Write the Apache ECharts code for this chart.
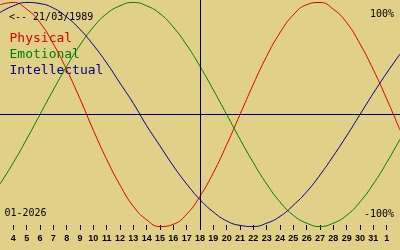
<!DOCTYPE html>
<html>
<head>
<meta charset="utf-8">
<script src="https://cdn.jsdelivr.net/npm/echarts@6/dist/echarts.min.js"></script>
<style>
html,body{margin:0;padding:0;background:#e0d088;}
#c{width:400px;height:250px;}
</style>
</head>
<body>
<div id="c"></div>
<script>
// Days of January 2026 shown (32 = 1 Feb, 33 = 2 Feb)
const days = [3,4,5,6,7,8,9,10,11,12,13,14,15,16,17,18,19,20,21,22,23,24,25,26,27,28,29,30,31,32,33];
// Biorhythm values in percent, read per day
const physical = [98,100,94,82,63,40,14,-14,-40,-63,-82,-94,-100,-98,-89,-73,-52,-27,0,27,52,73,89,98,100,94,82,63,40,14,-14];
const emotional = [-62,-43,-22,0,22,43,62,78,90,97,100,97,90,78,62,43,22,0,-22,-43,-62,-78,-90,-97,-100,-97,-90,-78,-62,-43,-22];
const intellectual = [91,97,100,99,95,87,76,62,46,28,10,-10,-28,-46,-62,-76,-87,-95,-99,-100,-97,-91,-81,-69,-54,-37,-19,0,19,37,54];
const tickDays = [4,5,6,7,8,9,10,11,12,13,14,15,16,17,18,19,20,21,22,23,24,25,26,27,28,29,30,31,32];
const tickLabels = ['4','5','6','7','8','9','10','11','12','13','14','15','16','17','18','19','20','21','22','23','24','25','26','27','28','29','30','31','1'];
const today = 18;
const birthText = '<-- 21/03/1989';
const monthText = '01-2026';
const seriesNames = ['Physical','Emotional','Intellectual'];
const seriesColors = ['#dd0000','#008000','#000090'];

const pair = arr => days.map((d,i)=>[d,arr[i]]);
const mono = '"DejaVu Sans Mono", "Liberation Mono", monospace';

const chart = echarts.init(document.getElementById('c'), null, {renderer:'canvas'});
chart.setOption({
  backgroundColor:'#e0d088',
  animation:false,
  grid:{left:0,right:0,top:0,bottom:20,containLabel:false},
  xAxis:{
    type:'value',min:3,max:33,position:'bottom',
    axisLine:{show:false,onZero:false},
    splitLine:{show:false},
    axisTick:{show:true,inside:true,length:5,customValues:tickDays,lineStyle:{color:'#000',width:1}},
    axisLabel:{show:true,customValues:tickDays,margin:4,fontSize:9,fontWeight:'bold',
      fontFamily:'"Liberation Sans", Arial, sans-serif',color:'#000',
      formatter:v=>{const k=tickDays.indexOf(v);return k>=0?tickLabels[k]:'';}}
  },
  yAxis:{type:'value',min:-103.1,max:102.2,show:false,splitLine:{show:false}},
  series:[
    {name:seriesNames[0],type:'line',data:pair(physical),smooth:true,symbol:'none',
      lineStyle:{color:seriesColors[0],width:1},z:3,
      markLine:{silent:true,symbol:'none',animation:false,label:{show:false},
        lineStyle:{color:'#000',width:1,type:'solid'},
        data:[{xAxis:today},{yAxis:0}]}},
    {name:seriesNames[1],type:'line',data:pair(emotional),smooth:true,symbol:'none',
      lineStyle:{color:seriesColors[1],width:1},z:3},
    {name:seriesNames[2],type:'line',data:pair(intellectual),smooth:true,symbol:'none',
      lineStyle:{color:seriesColors[2],width:1},z:3}
  ],
  graphic:[
    {type:'text',x:9,y:12.5,style:{text:birthText,font:'10px '+mono,fill:'#000',verticalAlign:'top'}},
    {type:'text',x:9.5,y:32,style:{text:seriesNames[0],font:'13px '+mono,fill:seriesColors[0],verticalAlign:'top'}},
    {type:'text',x:9.5,y:48,style:{text:seriesNames[1],font:'13px '+mono,fill:seriesColors[1],verticalAlign:'top'}},
    {type:'text',x:9.5,y:64,style:{text:seriesNames[2],font:'13px '+mono,fill:seriesColors[2],verticalAlign:'top'}},
    {type:'text',x:394,y:9,style:{text:'100%',font:'10px '+mono,fill:'#000',align:'right',verticalAlign:'top'}},
    {type:'text',x:394,y:209,style:{text:'-100%',font:'10px '+mono,fill:'#000',align:'right',verticalAlign:'top'}},
    {type:'text',x:4.5,y:208.5,style:{text:monthText,font:'10px '+mono,fill:'#000',verticalAlign:'top'}}
  ]
});
</script>
</body>
</html>
